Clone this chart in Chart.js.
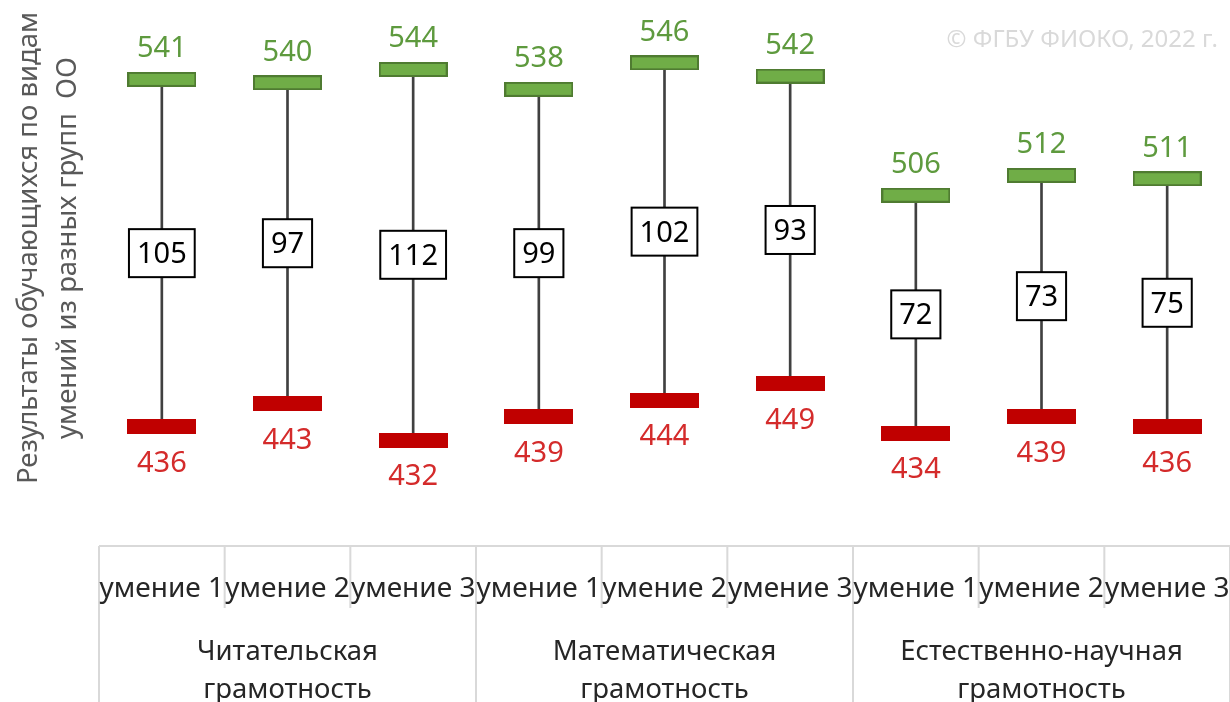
<!DOCTYPE html>
<html>
<head>
<meta charset="utf-8">
<script src="https://cdn.jsdelivr.net/npm/chart.js@4/dist/chart.umd.min.js"></script>
<style>
  html, body { margin: 0; padding: 0; background: #fff; overflow: hidden; }
  #wrap { position: relative; width: 1230px; height: 702px; }
  #wrap canvas { display: block; }
</style>
</head>
<body>
<div id="wrap"><canvas id="chart"></canvas></div>
<script>
// skill labels (lower row) and groups (upper row) of the x axis
const skills = ['умение 1', 'умение 2', 'умение 3', 'умение 1', 'умение 2', 'умение 3', 'умение 1', 'умение 2', 'умение 3'];
const groups = [
  ['Читательская', 'грамотность'],
  ['Математическая', 'грамотность'],
  ['Естественно-научная', 'грамотность']
];

// results of the best and worst groups of schools
const highScores = [541, 540, 544, 538, 546, 542, 506, 512, 511];
const lowScores = [436, 443, 432, 439, 444, 449, 434, 439, 436];

const yTitle = ['Результаты обучающихся по видам', 'умений из разных групп  ОО'];
const watermark = '© ФГБУ ФИОКО, 2022 г.';

const FONT = '"Noto Sans", sans-serif';
const greenText = '#5E9A3E';
const redText = '#D42B2B';

// bar-shaped markers used as point styles
function makeMarker(fill, stroke) {
  const c = document.createElement('canvas');
  c.width = 69;
  c.height = 15;
  const g = c.getContext('2d');
  g.fillStyle = fill;
  g.fillRect(0, 0, c.width, c.height);
  if (stroke) {
    g.strokeStyle = stroke;
    g.lineWidth = 2;
    g.strokeRect(1, 1, c.width - 2, c.height - 2);
  }
  return c;
}
const greenMarker = makeMarker('#70AD47', '#4F7B31');
const redMarker = makeMarker('#C00000', null);

const overlay = {
  id: 'overlay',
  afterDatasetsDraw(chart) {
    const { ctx, chartArea: a, scales: { x, y } } = chart;
    ctx.save();
    ctx.textAlign = 'center';
    ctx.textBaseline = 'alphabetic';

    // value labels and difference boxes
    highScores.forEach((h, i) => {
      const px = x.getPixelForValue(i);
      const yh = y.getPixelForValue(h);
      const yl = y.getPixelForValue(lowScores[i]);
      ctx.font = '29px ' + FONT;
      ctx.fillStyle = greenText;
      ctx.fillText(String(h), px, yh - 32 + 10);
      ctx.fillStyle = redText;
      ctx.fillText(String(lowScores[i]), px, yl + 35 + 10);

      const t = String(h - lowScores[i]);
      const w = ctx.measureText(t).width + 16;
      const bh = 48;
      const ym = (yh + yl) / 2;
      ctx.fillStyle = '#fff';
      ctx.fillRect(px - w / 2, ym - bh / 2, w, bh);
      ctx.strokeStyle = '#000';
      ctx.lineWidth = 2;
      ctx.strokeRect(px - w / 2, ym - bh / 2, w, bh);
      ctx.fillStyle = '#000';
      ctx.fillText(t, px, ym + 10);
    });

    // x axis drawn as a two-level table
    const step = (a.right - a.left) / skills.length;
    ctx.strokeStyle = '#D9D9D9';
    ctx.lineWidth = 2;
    ctx.beginPath();
    ctx.moveTo(a.left, a.bottom);
    ctx.lineTo(a.right, a.bottom);
    for (let i = 0; i <= skills.length; i++) {
      const bx = a.left + i * step;
      ctx.moveTo(bx, a.bottom);
      ctx.lineTo(bx, i % 3 === 0 ? chart.height : a.bottom + 62);
    }
    ctx.stroke();

    ctx.fillStyle = '#262626';
    ctx.font = '28px ' + FONT;
    skills.forEach((s, i) => {
      ctx.fillText(s, x.getPixelForValue(i), a.bottom + 51);
    });
    ctx.font = '27.5px ' + FONT;
    groups.forEach((g, j) => {
      const gx = a.left + (j * 3 + 1.5) * step;
      g.forEach((line, k) => {
        ctx.fillText(line, gx, a.bottom + 114 + k * 38);
      });
    });

    // y axis title
    ctx.save();
    ctx.fillStyle = '#595959';
    ctx.font = '27.5px ' + FONT;
    ctx.translate(0, 248);
    ctx.rotate(-Math.PI / 2);
    yTitle.forEach((line, k) => {
      ctx.fillText(line, 0, 37 + k * 39);
    });
    ctx.restore();

    // watermark
    ctx.textAlign = 'right';
    ctx.fillStyle = '#D9D9D9';
    ctx.font = '24px ' + FONT;
    ctx.fillText(watermark, 1218, 47);
    ctx.restore();
  }
};

new Chart(document.getElementById('chart'), {
  type: 'bar',
  data: {
    labels: skills,
    datasets: [
      {
        type: 'line',
        label: 'max',
        data: highScores,
        showLine: false,
        pointStyle: greenMarker,
        pointRadius: 5,
        order: 1
      },
      {
        type: 'line',
        label: 'min',
        data: lowScores,
        showLine: false,
        pointStyle: redMarker,
        pointRadius: 5,
        order: 1
      },
      {
        label: 'range',
        data: highScores.map((h, i) => [lowScores[i], h]),
        backgroundColor: '#404040',
        barThickness: 2,
        order: 3
      }
    ]
  },
  options: {
    responsive: true,
    maintainAspectRatio: false,
    animation: false,
    events: [],
    layout: { autoPadding: false, padding: { left: 99, right: 0, top: 0, bottom: 156 } },
    plugins: {
      legend: { display: false },
      tooltip: { enabled: false }
    },
    scales: {
      x: { display: false },
      y: { display: false, min: 400, max: 565 }
    }
  },
  plugins: [overlay]
});
</script>
</body>
</html>
